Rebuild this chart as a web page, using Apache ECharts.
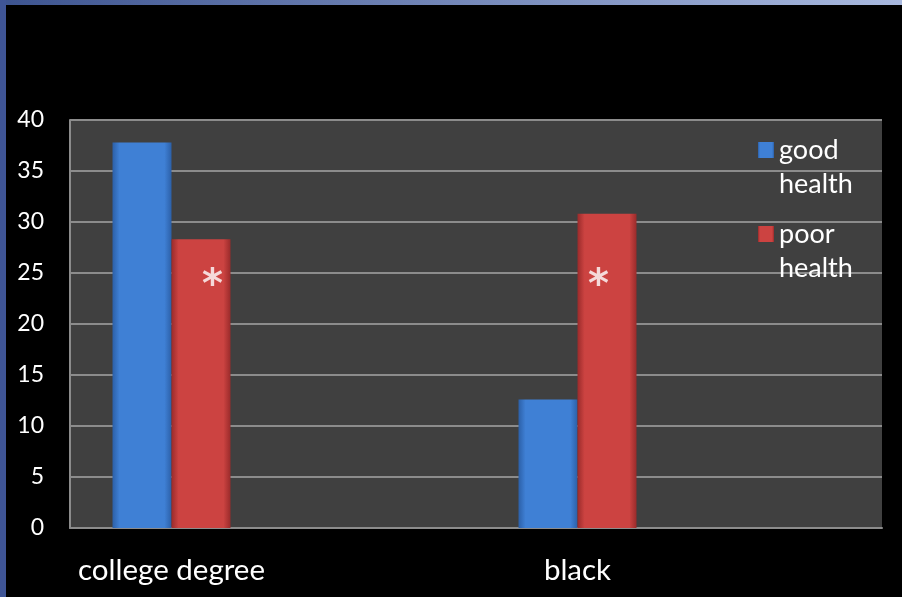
<!DOCTYPE html>
<html>
<head>
<meta charset="utf-8">
<script src="https://cdn.jsdelivr.net/npm/echarts@6/dist/echarts.min.js"></script>
<style>
  html, body { margin: 0; padding: 0; background: #000; }
  #wrap { position: relative; width: 902px; height: 597px; background: #000; overflow: hidden; }
  #topbar { position: absolute; left: 0; top: 0; width: 902px; height: 5px;
            background: linear-gradient(to right, #3d5490, #a9b9df); }
  #leftbar { position: absolute; left: 0; top: 0; width: 6px; height: 597px; background: #3f5596; }
  #chart { position: absolute; left: 0; top: 0; width: 902px; height: 597px; }
</style>
</head>
<body>
<div id="wrap">
  <div id="chart"></div>
  <div id="topbar"></div>
  <div id="leftbar"></div>
</div>
<script>
// ---- data ----
const categories = ['college degree', 'black'];
const seriesNames = ['good health', 'poor health'];
const goodHealth = [37.8, 12.6];
const poorHealth = [28.3, 30.8];
const significanceMarks = ['*', '*'];
const yTicks = [0, 5, 10, 15, 20, 25, 30, 35, 40];

const FONT = 'Lato, "Open Sans", sans-serif';

const chart = echarts.init(document.getElementById('chart'), null, { renderer: 'canvas' });

function barGradient(edge, mid) {
  return new echarts.graphic.LinearGradient(0, 0, 1, 0, [
    { offset: 0, color: edge },
    { offset: 0.12, color: mid },
    { offset: 0.88, color: mid },
    { offset: 1, color: edge }
  ]);
}

const option = {
  backgroundColor: 'transparent',
  animation: false,
  grid: {
    left: 70, right: 20, top: 120, bottom: 69,
    show: true, backgroundColor: '#404040', borderWidth: 0
  },
  legend: {
    orient: 'vertical',
    left: 758, top: 99, padding: 0,
    itemWidth: 16, itemHeight: 16, itemGap: -18,
    icon: 'rect',
    data: seriesNames,
    formatter: n => '\n' + n.replace(' ', '\n'),
    textStyle: { color: '#ffffff', fontSize: 27, fontFamily: FONT, lineHeight: 34 }
  },
  xAxis: {
    type: 'value',
    min: -0.25, max: 1.75,
    splitLine: { show: false },
    axisTick: { show: false },
    axisLine: { show: true, onZero: false, lineStyle: { color: '#8c8c8c', width: 2 } },
    axisLabel: {
      customValues: categories.map((c, i) => i),
      formatter: v => categories[Math.round(v)] || '',
      color: '#ffffff', fontSize: 29.5, fontFamily: FONT, margin: 27
    }
  },
  yAxis: {
    type: 'value',
    min: yTicks[0], max: yTicks[yTicks.length - 1], interval: 5,
    axisLine: { show: true, onZero: false, lineStyle: { color: '#8c8c8c', width: 2 } },
    axisTick: { show: false },
    splitLine: { lineStyle: { color: '#8c8c8c', width: 2 } },
    axisLabel: { color: '#ffffff', fontSize: 23, fontFamily: FONT, margin: 26 }
  },
  series: [
    {
      name: seriesNames[0], type: 'bar',
      barWidth: 59, barGap: '0%',
      data: goodHealth.map((v, i) => [i, v]),
      itemStyle: { color: barGradient('#2c60a8', '#3f80d5') }
    },
    {
      name: seriesNames[1], type: 'bar',
      barWidth: 59, barGap: '0%',
      data: poorHealth.map((v, i) => [i, v]),
      itemStyle: { color: barGradient('#9a2b2b', '#cc4341') }
    },
    {
      name: 'marks', type: 'scatter', symbolSize: 0, silent: true,
      data: significanceMarks.map((m, i) => ({
        value: [i, 23.7],
        label: { offset: i === 0 ? [41, 0] : [21, 0] }
      })),
      label: {
        show: true, position: 'inside',
        formatter: p => significanceMarks[p.dataIndex],
        color: '#ffffff', textBorderWidth: 0, textBorderColor: 'transparent',
        fontSize: 40, fontWeight: 'bold', fontFamily: '"DejaVu Sans", sans-serif'
      },
      z: 10
    }
  ]
};
chart.setOption(option);
</script>
</body>
</html>
